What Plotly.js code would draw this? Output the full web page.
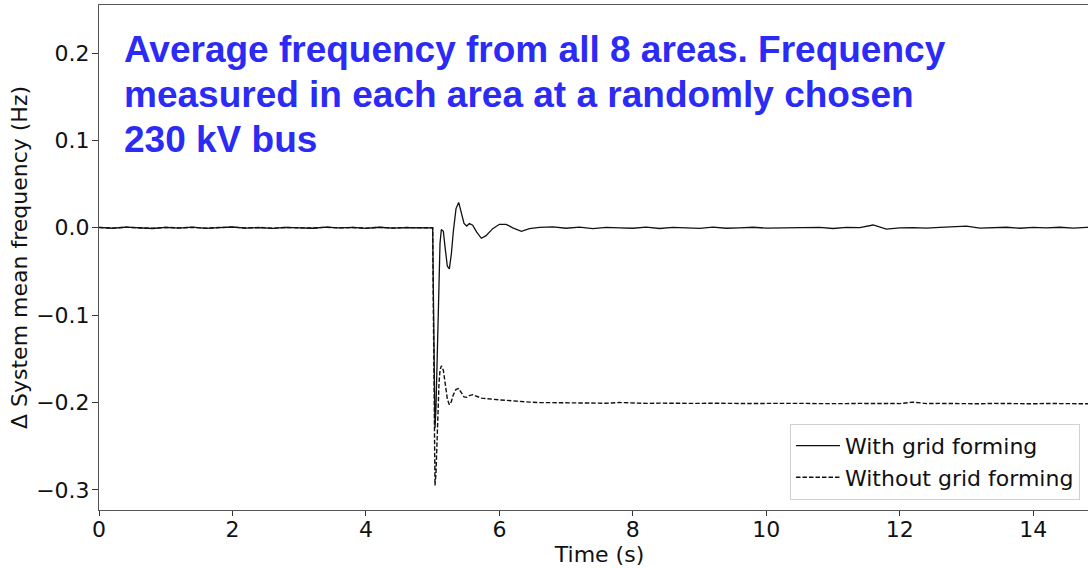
<!DOCTYPE html>
<html>
<head>
<meta charset="utf-8">
<script src="https://cdn.plot.ly/plotly-3.0.1.min.js"></script>
<style>
html,body{margin:0;padding:0;overflow:hidden;background:#fff;width:1088px;height:568px;}
#chart{width:1100px;height:568px;}
</style>
</head>
<body>
<div id="chart"></div>
<script>
// Time (s)
const time = [
  0.0,0.2,0.4,0.6,0.8,1.0,1.2,1.4,1.6,1.8,2.0,2.2,2.4,2.6,2.8,3.0,3.2,3.4,3.6,3.8,4.0,4.2,4.4,4.6,4.8,
  4.98,5.0,5.01,5.02,5.035,5.05,5.065,5.08,5.095,5.11,5.13,5.16,5.19,5.22,5.25,5.28,5.31,5.35,5.39,5.43,5.47,5.51,5.55,5.60,5.66,5.73,5.80,5.90,6.0,6.1,6.2,6.33,6.45,
  6.6,6.8,7.0,7.2,7.4,7.6,7.8,8.0,8.2,8.4,8.6,8.8,9.0,9.2,9.4,9.6,9.8,10.0,10.2,10.4,10.6,10.8,11.0,11.2,11.4,11.6,11.8,12.0,12.2,12.4,12.6,12.8,13.0,13.2,13.4,13.6,13.8,14.0,14.2,14.4,14.6,14.8,15.0
];
// Δ mean frequency with grid forming (Hz)
const withGridForming = [
  0.0005,-0.0005,0.0008,0.0,-0.0008,0.0004,-0.0003,0.0007,-0.0006,0.0002,0.0009,-0.0004,0.0003,-0.0007,0.0005,0.0,-0.0005,0.0008,-0.0002,0.0004,-0.0006,0.0006,-0.0003,0.0002,0.0,
  0.0003,0.0,-0.07,-0.17,-0.229,-0.205,-0.15,-0.095,-0.05,-0.018,-0.002,-0.004,-0.025,-0.044,-0.047,-0.030,-0.004,0.022,0.029,0.018,0.005,0.002,0.005,0.003,-0.005,-0.012,-0.009,-0.001,0.004,0.004,0.0,-0.004,-0.001,
  0.0005,0.001,-0.0005,0.0008,-0.001,0.0005,0.0,-0.0005,0.0008,-0.0008,0.0005,0.0002,-0.0006,0.0008,-0.0005,0.0,0.0006,-0.0004,-0.0002,0.0007,0.0001,0.0005,-0.0008,0.0004,0.0002,0.0032,-0.0015,0.0,0.0003,-0.0003,0.0005,0.0015,0.0018,-0.0004,0.0,0.0006,-0.0005,0.0004,0.0,0.0006,-0.0004,0.0005,0.0
];
// Δ mean frequency without grid forming (Hz)
const withoutGridForming = [
  0.0003,-0.0004,0.0006,0.0002,-0.0006,0.0005,-0.0001,0.0005,-0.0004,0.0003,0.0007,-0.0002,0.0004,-0.0005,0.0003,0.0001,-0.0003,0.0006,-0.0001,0.0003,-0.0004,0.0005,-0.0002,0.0003,0.0,
  0.0002,0.0,-0.09,-0.21,-0.295,-0.28,-0.245,-0.205,-0.178,-0.163,-0.158,-0.163,-0.180,-0.196,-0.2025,-0.199,-0.191,-0.185,-0.184,-0.189,-0.1935,-0.194,-0.192,-0.191,-0.193,-0.195,-0.1955,-0.1965,-0.197,-0.1975,-0.198,-0.1995,-0.1995,
  -0.2,-0.2003,-0.2006,-0.2008,-0.2005,-0.2008,-0.2,-0.2008,-0.201,-0.2007,-0.201,-0.2006,-0.201,-0.2008,-0.2012,-0.2008,-0.2012,-0.201,-0.2008,-0.2012,-0.201,-0.2013,-0.2009,-0.2012,-0.201,-0.2013,-0.201,-0.2012,-0.1995,-0.2012,-0.201,-0.2013,-0.2011,-0.2014,-0.201,-0.2013,-0.2012,-0.2014,-0.2011,-0.2014,-0.2012,-0.2014,-0.2013
];
const seriesNames = ['With grid forming', 'Without grid forming'];
const xTickVals = [0,2,4,6,8,10,12,14];
const yTickVals = [-0.3,-0.2,-0.1,0.0,0.1,0.2];
const yTickText = ['\u22120.3','\u22120.2','\u22120.1','0.0','0.1','0.2'];
const annotationLines = [
  'Average frequency from all 8 areas. Frequency',
  'measured in each area at a randomly chosen',
  '230 kV bus'
];
const annotationLineY = [0.2037, 0.1522, 0.1007];

const traces = [
  {x: time, y: withGridForming, name: seriesNames[0], type: 'scatter', mode: 'lines',
   line: {color: '#111', width: 1.3}},
  {x: time, y: withoutGridForming, name: seriesNames[1], type: 'scatter', mode: 'lines',
   line: {color: '#111', width: 1.4, dash: '4.5px,2px'}}
];

const tickFont = {family: 'DejaVu Sans', size: 22, color: '#111'};
const layout = {
  width: 1100, height: 568,
  margin: {l: 99, r: 0, t: 5, b: 58},
  paper_bgcolor: '#fff', plot_bgcolor: '#fff',
  showlegend: true,
  xaxis: {
    range: [0, 15], tickvals: xTickVals, ticks: 'outside', ticklen: 5, tickcolor: '#333',
    showgrid: false, zeroline: false, showline: true, linecolor: '#555', linewidth: 1, mirror: true,
    tickfont: tickFont, ticklabelstandoff: -5,
    title: {text: 'Time (s)', font: tickFont, standoff: 0}
  },
  yaxis: {
    range: [-0.323, 0.255], tickvals: yTickVals, ticktext: yTickText, ticks: 'outside', ticklen: 6, tickcolor: '#333',
    showgrid: false, zeroline: false, showline: true, linecolor: '#555', linewidth: 1, mirror: true,
    tickfont: tickFont, ticklabelstandoff: -2,
    title: {text: '\u0394 System mean frequency (Hz)', font: tickFont, standoff: 2}
  },
  legend: {
    x: 0.98, y: 0.02, xanchor: 'right', yanchor: 'bottom',
    bgcolor: 'rgba(255,255,255,0.9)', bordercolor: '#d0d0d0', borderwidth: 1,
    itemwidth: 44,
    font: {family: 'DejaVu Sans', size: 22, color: '#111'}
  },
  annotations: annotationLines.map((t, i) => ({
    text: t, xref: 'x', yref: 'y', x: 0.345, y: annotationLineY[i],
    xanchor: 'left', yanchor: 'middle', align: 'left', showarrow: false,
    font: {family: 'Liberation Sans, Arial, sans-serif', size: 37, color: '#2b2bf5', weight: 'bold'}
  }))
};

Plotly.newPlot('chart', traces, layout, {displayModeBar: false, staticPlot: true});
</script>
</body>
</html>
